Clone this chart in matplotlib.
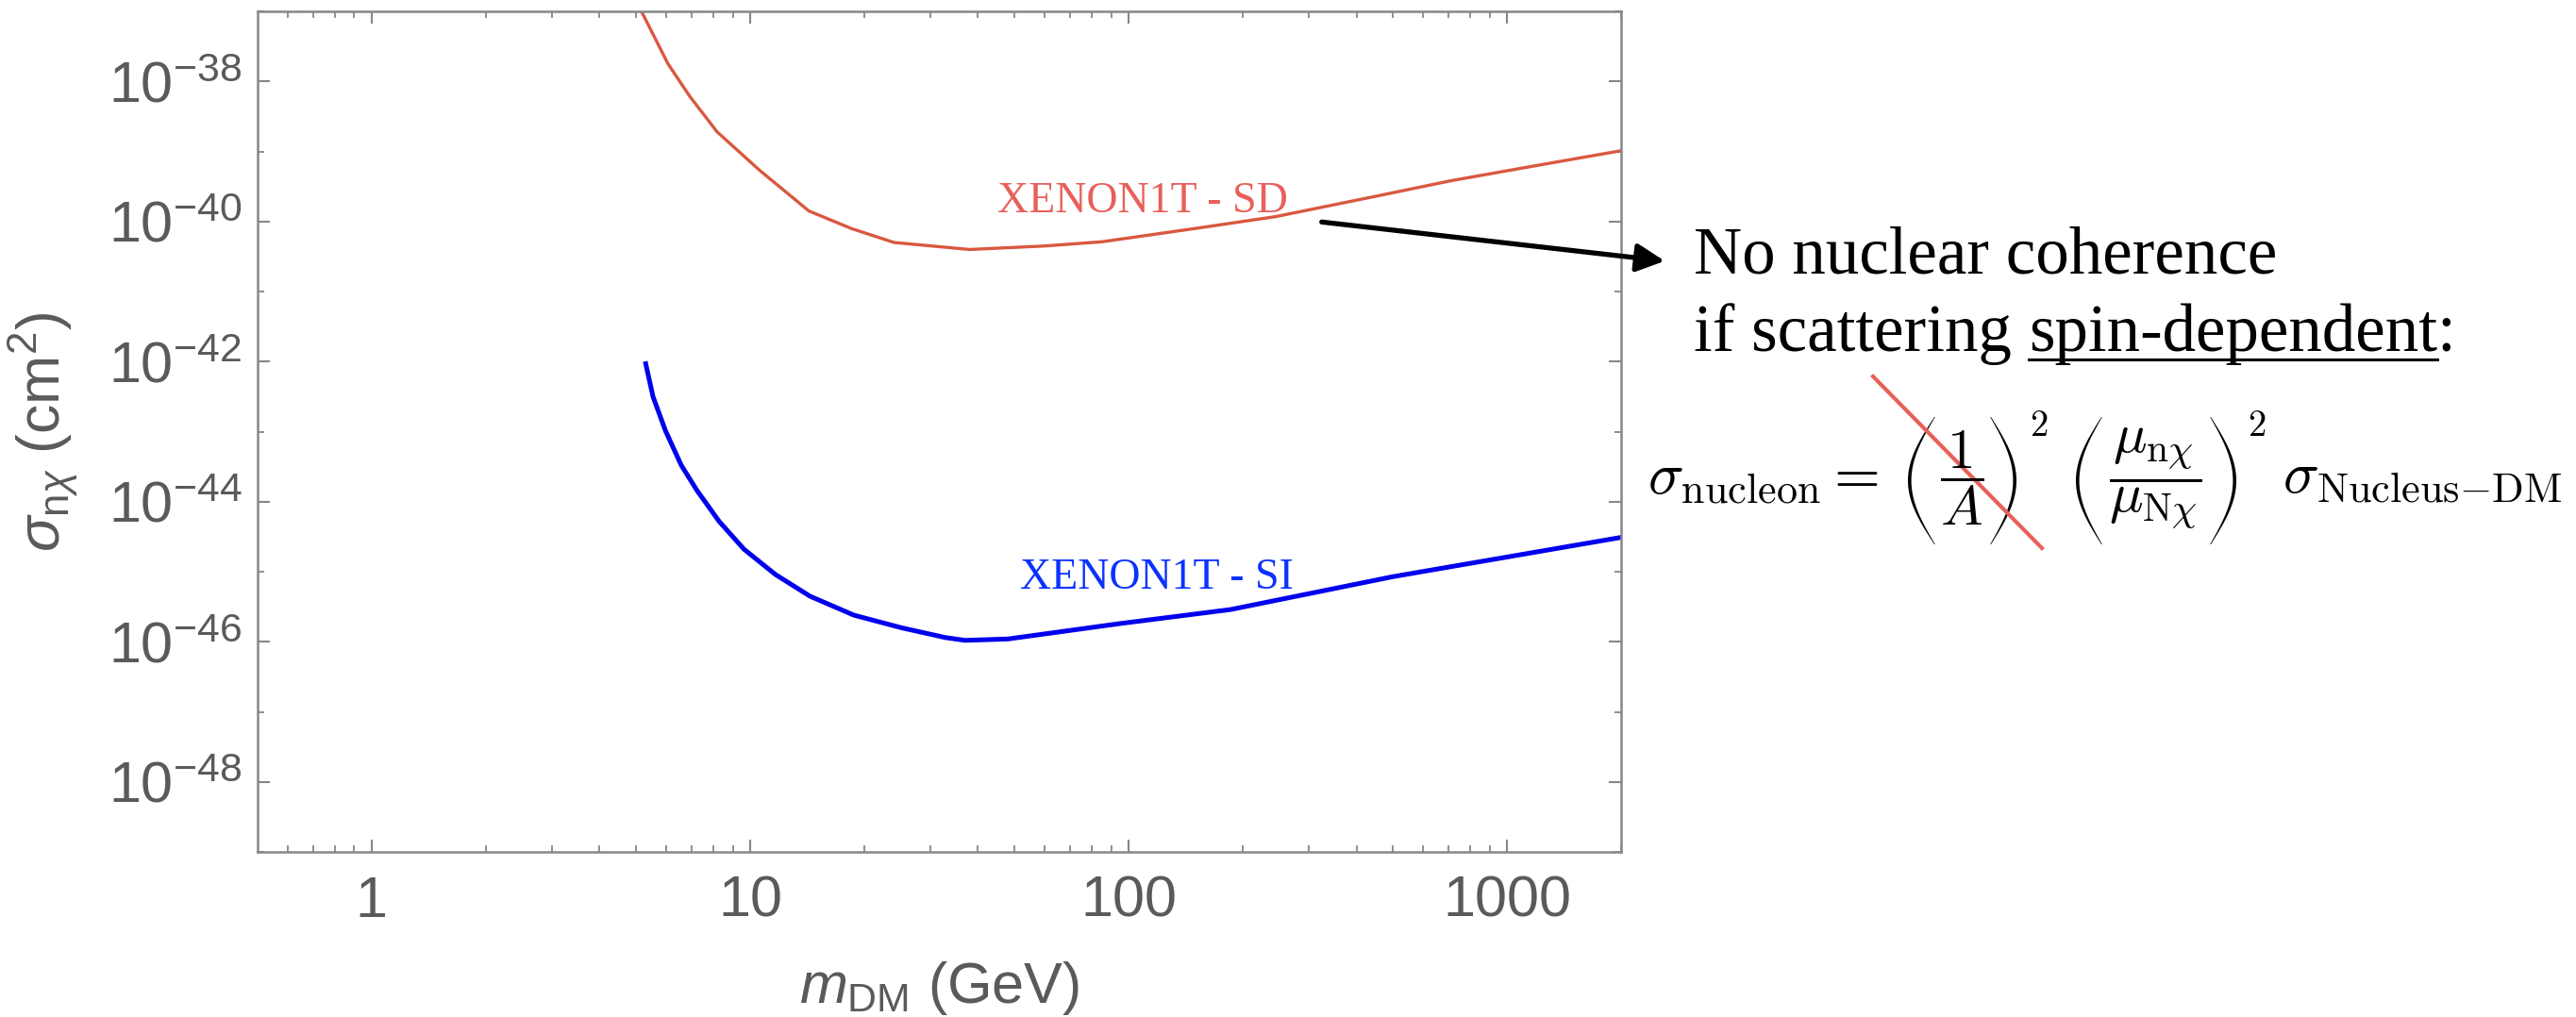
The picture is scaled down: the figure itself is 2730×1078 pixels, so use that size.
import numpy as np
import matplotlib
matplotlib.use("Agg")
import matplotlib.pyplot as plt
from matplotlib.ticker import FixedLocator, FuncFormatter, NullFormatter
from matplotlib.lines import Line2D
from matplotlib.patches import Polygon
from matplotlib.transforms import IdentityTransform

plt.rcParams['font.family'] = ['Liberation Sans', 'DejaVu Sans']
plt.rcParams['mathtext.fontset'] = 'custom'
plt.rcParams['mathtext.rm'] = 'Liberation Sans'
plt.rcParams['mathtext.it'] = 'Liberation Sans:italic'
plt.rcParams['mathtext.bf'] = 'Liberation Sans:bold'
plt.rcParams['mathtext.sf'] = 'Liberation Sans'

# XENON1T spin-dependent limit (mass in GeV, log10 of sigma in cm^2)
sd_mass = [5.0, 6.07, 6.92, 8.18, 10.6, 14.3, 18.5, 24, 38, 60, 85, 150, 245, 450, 708, 1200, 2000]
sd_log_sigma = [-36.85, -37.75, -38.21, -38.72, -39.27, -39.85, -40.10, -40.30, -40.40, -40.35,
                -40.29, -40.10, -39.93, -39.64, -39.42, -39.20, -38.99]

# XENON1T spin-independent limit
si_mass = [5.3, 5.54, 5.98, 6.58, 7.24, 8.28, 9.64, 11.67, 14.4, 18.8, 25.1, 32.8, 37, 48,
           95, 186, 500, 1000, 2000]
si_log_sigma = [-42.03, -42.50, -42.99, -43.48, -43.84, -44.28, -44.68, -45.04, -45.35, -45.62,
                -45.80, -45.94, -45.98, -45.96, -45.74, -45.54, -45.07, -44.79, -44.51]

x_ticks = [1, 10, 100, 1000]
x_minor = [0.6, 0.7, 0.8, 0.9] + [k * d for d in (1, 10, 100) for k in range(2, 10)] + [2000]
y_major_exp = [-48, -46, -44, -42, -40, -38]
y_minor_exp = [-49, -47, -45, -43, -41, -39, -37]

W, H = 2730, 1078
fig = plt.figure(figsize=(W / 100, H / 100), dpi=100)
ax = fig.add_axes([273 / W, (H - 903) / H, (1718 - 273) / W, (903 - 12) / H])


def fx(x):
    return x / W


def fy(y):
    return 1 - y / H


ax.plot(sd_mass, 10.0 ** np.array(sd_log_sigma), color='#d9583f', lw=2.4)
ax.plot(si_mass, 10.0 ** np.array(si_log_sigma), color='#0000ee', lw=3.6)

ax.set_xscale('log')
ax.set_yscale('log')
ax.set_xlim(0.5, 2000)
ax.set_ylim(1e-49, 1e-37)

ax.xaxis.set_major_locator(FixedLocator(x_ticks))
ax.xaxis.set_minor_locator(FixedLocator(x_minor))
ax.xaxis.set_major_formatter(FuncFormatter(lambda v, p: '%d' % v))
ax.xaxis.set_minor_formatter(NullFormatter())
ax.yaxis.set_major_locator(FixedLocator([10.0 ** e for e in y_major_exp]))
ax.yaxis.set_minor_locator(FixedLocator([10.0 ** e for e in y_minor_exp]))
ax.yaxis.set_major_formatter(FuncFormatter(lambda v, p: r'$10^{%d}$' % round(np.log10(v))))
ax.yaxis.set_minor_formatter(NullFormatter())

gray = '#878787'
for s in ax.spines.values():
    s.set_color(gray)
    s.set_linewidth(1.8)
ax.tick_params(which='both', direction='in', top=True, right=True, color=gray,
               labelcolor='#5a5a5a', labelsize=44)
ax.tick_params(which='major', length=9.5, width=1.5)
ax.tick_params(which='minor', length=5, width=1.3)
ax.tick_params(axis='x', pad=18)
ax.tick_params(axis='y', pad=12)

ax.set_xlabel(r'$m_{\mathrm{DM}}$ (GeV)', fontsize=44, color='#5a5a5a')
ax.set_ylabel(r'$\sigma_{\mathrm{n}\chi}$ (cm$^2$)', fontsize=45, color='#5a5a5a')
ax.xaxis.set_label_coords(0.5, -0.128)
ax.yaxis.set_label_coords(-0.130, 0.5)

ax.text(fx(1057), fy(225), 'XENON1T - SD', transform=fig.transFigure,
        family='Liberation Serif', fontsize=33, color='#e8605a')
ax.text(fx(1081), fy(624), 'XENON1T - SI', transform=fig.transFigure,
        family='Liberation Serif', fontsize=33, color='#0a32ff')

# arrow to the annotation
ax.annotate('', xy=(fx(1767), fy(277)), xytext=(fx(1398), fy(235)),
            xycoords='figure fraction', textcoords='figure fraction',
            arrowprops=dict(arrowstyle='-|>', lw=3.8, color='k', mutation_scale=45),
            annotation_clip=False)

serif = dict(family='Liberation Serif', fontsize=51, color='k')
fig.text(fx(1795), fy(289), 'No nuclear coherence', **serif)
t1 = fig.text(fx(1795), fy(372), 'if scattering', **serif)
r = fig.canvas.get_renderer()
b1 = t1.get_window_extent(r)
t2 = fig.text((b1.x1 + 18) / W, fy(372), 'spin-dependent', **serif)
b2 = t2.get_window_extent(r)
fig.text(b2.x1 / W, fy(372), ':', **serif)
fig.add_artist(Line2D([b2.x0 / W, b2.x1 / W], [fy(381), fy(381)],
                      transform=fig.transFigure, color='k', lw=2.2))


# formula, built from pieces so that the brackets can be as tall as in the slide
def fit_width(t, target):
    w = t.get_window_extent(r).width
    t.set_fontsize(t.get_fontsize() * target / w)


def paren(x_belly, x_tip, y_top, y_bot, thick=3.6):
    t = np.linspace(0, 1, 80)
    yy = H - (y_top + (y_bot - y_top) * t)
    sgn = 1 if x_tip > x_belly else -1
    outer = x_tip + (x_belly - x_tip) * np.sin(np.pi * t)
    inner = outer + sgn * (0.8 + (thick - 0.8) * np.sin(np.pi * t))
    pts = np.column_stack([np.r_[outer, inner[::-1]], np.r_[yy, yy[::-1]]])
    fig.add_artist(Polygon(pts, closed=True, transform=IdentityTransform(),
                           facecolor='k', edgecolor='none'))


math = dict(math_fontfamily='cm', color='k')
p1 = fig.text(fx(1746), fy(523), r'$\sigma_{\rm nucleon} =$', fontsize=45, va='baseline', **math)
fit_width(p1, 245)
p4 = fig.text(fx(2419), fy(523), r'$\sigma_{\mathrm{Nucleus{-}DM}}$', fontsize=45,
              va='baseline', **math)
fit_width(p4, 296)

f2 = fig.text(fx(2284), fy(507), r'$\dfrac{\mu_{\rm n\chi}}{\mu_{\rm N\chi}}$', fontsize=37,
              ha='center', va='center', **math)
fit_width(f2, 99)
f1 = fig.text(fx(2079), fy(507), r'$\dfrac{1}{A}$', fontsize=f2.get_fontsize(),
              ha='center', va='center', **math)

paren(2022, 2050, 442, 577)
paren(2137, 2110, 442, 577)
paren(2200, 2227, 442, 577)
paren(2370, 2343, 442, 577)
fig.text(fx(2151), fy(434), r'$2$', fontsize=28, va='top', **math)
fig.text(fx(2382), fy(434), r'$2$', fontsize=28, va='top', **math)

# strike through 1/A
fig.add_artist(Line2D([fx(1985), fx(2164)], [fy(399), fy(581)],
                      transform=fig.transFigure, color='#e8605a', lw=3.0))

fig.savefig('out.png', dpi=100)
